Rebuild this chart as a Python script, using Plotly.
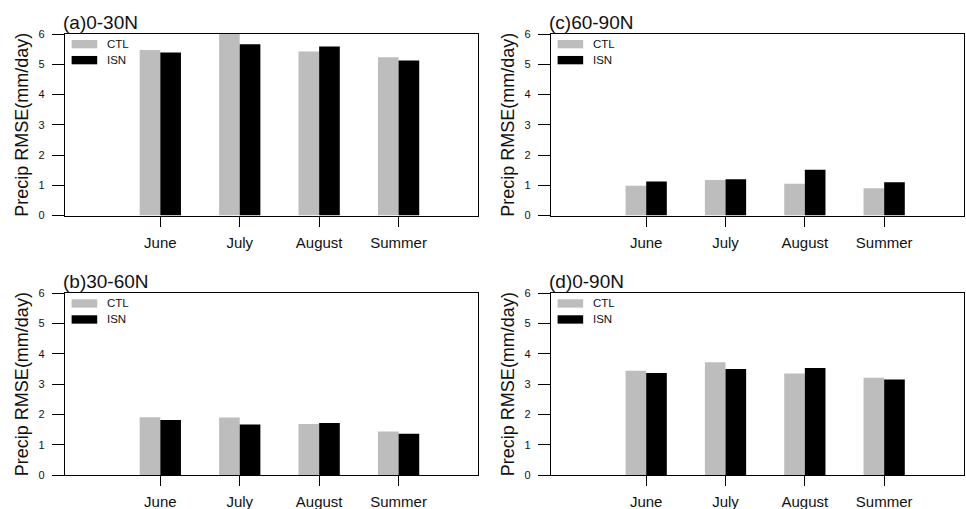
import plotly.graph_objects as go

months = ["June", "July", "August", "Summer"]
positions = [1, 2, 3, 4]
yticks = [0, 1, 2, 3, 4, 5, 6]

panel_titles = ["(a)0-30N", "(b)30-60N", "(c)60-90N", "(d)0-90N"]
series_names = ["CTL", "ISN"]

ctl_a = [5.47, 6.00, 5.42, 5.23]
isn_a = [5.39, 5.66, 5.59, 5.12]
ctl_b = [1.91, 1.90, 1.68, 1.44]
isn_b = [1.82, 1.67, 1.72, 1.36]
ctl_c = [0.98, 1.17, 1.05, 0.90]
isn_c = [1.12, 1.20, 1.51, 1.10]
ctl_d = [3.44, 3.72, 3.35, 3.21]
isn_d = [3.37, 3.50, 3.53, 3.15]

W, H = 966, 509
FONT = "Liberation Sans, Arial, Helvetica, sans-serif"
GRAY = "#bdbdbd"
BLACK = "#000000"

# (panel index, x-domain px, y-domain px (top, bottom), ctl, isn)
panels = [
    (0, (65, 478), (34, 215.5), ctl_a, isn_a),
    (1, (65, 478), (293.3, 475), ctl_b, isn_b),
    (2, (551, 963.5), (34, 215.5), ctl_c, isn_c),
    (3, (551, 963.5), (293.3, 475), ctl_d, isn_d),
]

fig = go.Figure()
annotations = []
shapes = []
bar_w = 0.26

for i, (pi, (xl, xr), (yt, yb), ctl, isn) in enumerate(panels):
    n = i + 1
    xa = "x" if n == 1 else f"x{n}"
    ya = "y" if n == 1 else f"y{n}"
    fig.add_trace(go.Bar(x=positions, y=ctl, width=bar_w, offset=-bar_w,
                         marker=dict(color=GRAY, line=dict(width=0)),
                         name=series_names[0], showlegend=False,
                         xaxis=xa, yaxis=ya))
    fig.add_trace(go.Bar(x=positions, y=isn, width=bar_w, offset=0,
                         marker=dict(color=BLACK, line=dict(width=0)),
                         name=series_names[1], showlegend=False,
                         xaxis=xa, yaxis=ya))
    xkey = "xaxis" if n == 1 else f"xaxis{n}"
    ykey = "yaxis" if n == 1 else f"yaxis{n}"
    fig.layout[xkey] = dict(
        domain=[xl / W, xr / W], anchor=ya, range=[-0.2, 5.0],
        tickmode="array", tickvals=positions, ticktext=months,
        ticks="outside", ticklen=10, tickwidth=1.2, tickcolor="black",
        showline=True, linecolor="black", linewidth=1.3, mirror=True,
        showgrid=False, zeroline=False, fixedrange=True, automargin=False,
        tickfont=dict(family=FONT, size=15, color="#111"),
        ticklabelstandoff=3,
    )
    fig.layout[ykey] = dict(
        domain=[1 - yb / H, 1 - yt / H], anchor=xa, range=[0, 6],
        tickmode="array", tickvals=yticks,
        ticks="outside", ticklen=12, tickwidth=1.2, tickcolor="black",
        showline=True, linecolor="black", linewidth=1.3, mirror=True,
        showgrid=False, zeroline=False, fixedrange=True, automargin=False,
        tickfont=dict(family=FONT, size=11, color="#111"),
        ticklabelstandoff=5,
    )
    xd = f"{xa} domain"
    yd = f"{ya} domain"
    # panel title
    annotations.append(dict(text=panel_titles[pi], xref=xd, yref=yd, x=0, y=1,
                            xanchor="left", yanchor="bottom", xshift=-4, yshift=-1,
                            showarrow=False,
                            font=dict(family=FONT, size=19, color="#111")))
    # y-axis title
    annotations.append(dict(text="Precip RMSE(mm/day)", xref=xd, yref=yd, x=0, y=0.5,
                            xanchor="center", yanchor="middle", xshift=-43,
                            textangle=-90, showarrow=False,
                            font=dict(family=FONT, size=18, color="#111")))
    # legend
    for (name, col, y0, y1) in [(series_names[0], GRAY, 0.921, 0.967),
                                (series_names[1], BLACK, 0.833, 0.879)]:
        shapes.append(dict(type="rect", xref=xd, yref=yd, x0=0.016, x1=0.078,
                           y0=y0, y1=y1, fillcolor=col, line=dict(width=0)))
        annotations.append(dict(text=name, xref=xd, yref=yd, x=0.097, y=(y0 + y1) / 2,
                                xanchor="left", yanchor="middle", showarrow=False,
                                font=dict(family=FONT, size=11.5, color="#111")))

fig.update_layout(
    template="none",
    width=W, height=H, margin=dict(l=0, r=0, t=0, b=0, autoexpand=False),
    paper_bgcolor="white", plot_bgcolor="white",
    barmode="overlay", showlegend=False,
    annotations=annotations, shapes=shapes,
    font=dict(family=FONT),
)

fig.write_html("out.html", config={"displayModeBar": False},
               post_script="document.body.style.margin='0';document.body.style.overflow='hidden';")
